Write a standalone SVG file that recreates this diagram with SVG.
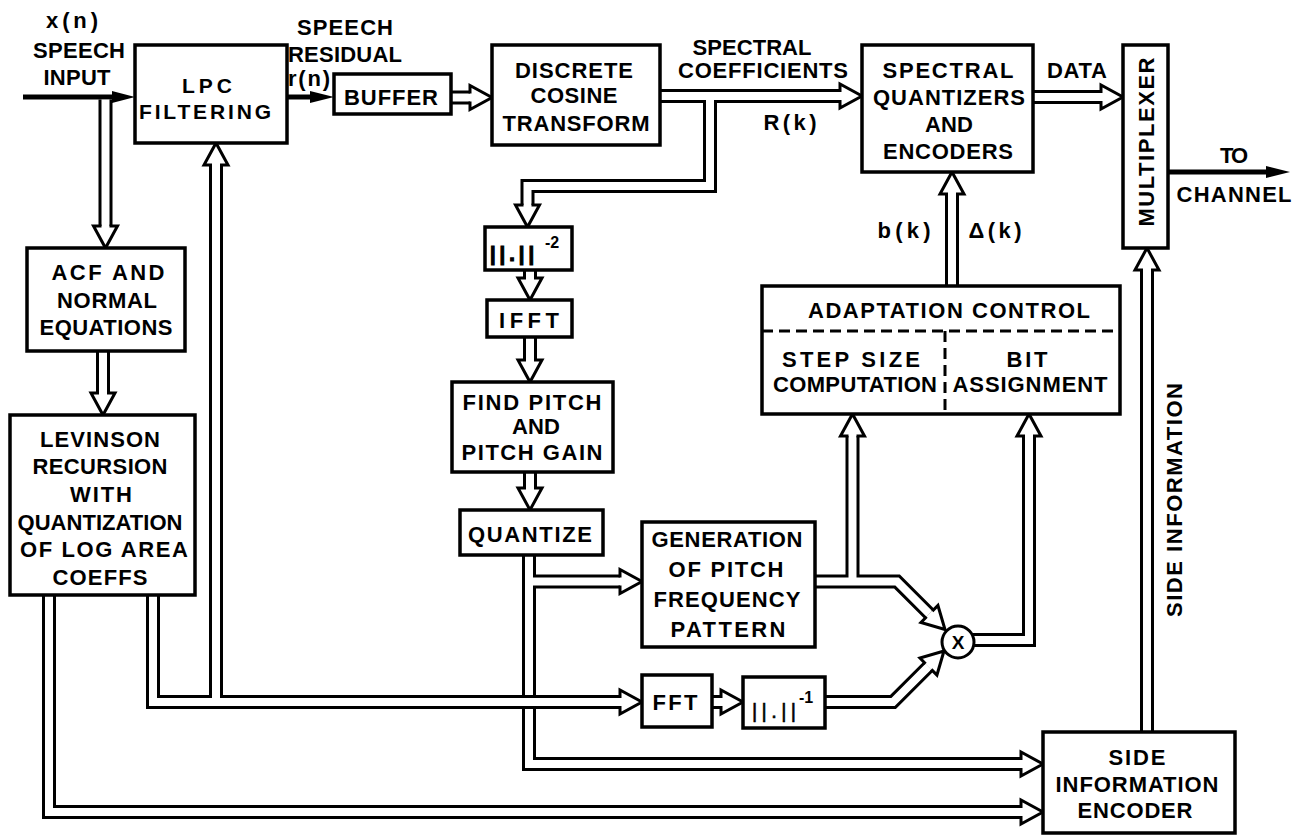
<svg xmlns="http://www.w3.org/2000/svg" xmlns:xlink="http://www.w3.org/1999/xlink" width="1307" height="836" viewBox="0 0 1307 836">
<style>
.box{fill:#fff;stroke:#000;stroke-width:3.5}
.t{font-family:"Liberation Sans",Arial,sans-serif;font-weight:bold;font-size:22px;text-anchor:middle;fill:#000}
.sm{font-size:16px}
.nrm{stroke:#000;stroke-width:1.2}
.chB{fill:none;stroke:#000;stroke-width:14;stroke-linejoin:miter}
.chW{fill:none;stroke:#fff;stroke-width:8;stroke-linejoin:miter}
.ah{fill:#fff;stroke:#000;stroke-width:3;stroke-linecap:square;stroke-linejoin:miter}
.ln{fill:none;stroke:#000;stroke-width:5}
.sa{fill:#000;stroke:none}
.dash{fill:none;stroke:#000;stroke-width:3;stroke-dasharray:11 6}
</style>
<defs>
<polyline id="ah" points="-22,-5.5 -22,-12 0,0 -22,12 -22,5.5"/>
<path id="c_in" d="M105.5,99.5 V226"/>
<path id="c_buf" d="M451,97.5 H470"/>
<path id="c_dct" d="M660,96 H840"/>
<path id="c_dctb" d="M710,96 V186 H527.5 V205"/>
<path id="c_iis" d="M530,270 V278"/>
<path id="c_ifft" d="M530,337 V360"/>
<path id="c_find" d="M530,472 V488"/>
<path id="c_q" d="M529,555 V764 H1021"/>
<path id="c_qg" d="M529,581.5 H620"/>
<path id="c_acf" d="M103,351 V393"/>
<path id="c_lev2" d="M49,595 V812 H1021"/>
<path id="c_gen" d="M815,581.5 H897 L929.4,613.9"/>
<path id="c_genup" d="M852.5,581.5 V436"/>
<path id="c_fft2" d="M712,702 H721"/>
<path id="c_nrm" d="M825,702 H893 L928.4,666.6"/>
<path id="c_x" d="M972,640 H1029 V436"/>
<path id="c_adapt" d="M952,286 V194"/>
<path id="c_side" d="M1147,732 V270"/>
<path id="c_data" d="M1033,97 H1101"/>
<path id="c_lev1" d="M153,595 V702 H620"/>
<path id="c_lpc" d="M216,702 V165"/>
</defs>

<g id="connectors">
  <!-- thin signal lines -->
  <line class="ln" x1="23" y1="97" x2="116" y2="97"/>
  <polygon class="sa" points="135,97 112,91 112,103"/>
  <line class="ln" x1="287" y1="97" x2="314" y2="97"/>
  <polygon class="sa" points="334,97 310,91 310,103"/>
  <line class="ln" x1="1168" y1="172" x2="1270" y2="172"/>
  <polygon class="sa" points="1290,172 1266,166 1266,178"/>

  <!-- double-line channels: main system -->
  <g>
    <use xlink:href="#c_in" class="chB"/>
    <use xlink:href="#c_buf" class="chB"/>
    <use xlink:href="#c_dct" class="chB"/>
    <use xlink:href="#c_dctb" class="chB"/>
    <use xlink:href="#c_iis" class="chB"/>
    <use xlink:href="#c_ifft" class="chB"/>
    <use xlink:href="#c_find" class="chB"/>
    <use xlink:href="#c_q" class="chB"/>
    <use xlink:href="#c_qg" class="chB"/>
    <use xlink:href="#c_acf" class="chB"/>
    <use xlink:href="#c_lev2" class="chB"/>
    <use xlink:href="#c_gen" class="chB"/>
    <use xlink:href="#c_genup" class="chB"/>
    <use xlink:href="#c_fft2" class="chB"/>
    <use xlink:href="#c_nrm" class="chB"/>
    <use xlink:href="#c_x" class="chB"/>
    <use xlink:href="#c_adapt" class="chB"/>
    <use xlink:href="#c_side" class="chB"/>
    <use xlink:href="#c_data" class="chB"/>
  </g>
  <g>
    <use xlink:href="#c_in" class="chW"/>
    <use xlink:href="#c_buf" class="chW"/>
    <use xlink:href="#c_dct" class="chW"/>
    <use xlink:href="#c_dctb" class="chW"/>
    <use xlink:href="#c_iis" class="chW"/>
    <use xlink:href="#c_ifft" class="chW"/>
    <use xlink:href="#c_find" class="chW"/>
    <use xlink:href="#c_q" class="chW"/>
    <use xlink:href="#c_qg" class="chW"/>
    <use xlink:href="#c_acf" class="chW"/>
    <use xlink:href="#c_lev2" class="chW"/>
    <use xlink:href="#c_gen" class="chW"/>
    <use xlink:href="#c_genup" class="chW"/>
    <use xlink:href="#c_fft2" class="chW"/>
    <use xlink:href="#c_nrm" class="chW"/>
    <use xlink:href="#c_x" class="chW"/>
    <use xlink:href="#c_adapt" class="chW"/>
    <use xlink:href="#c_side" class="chW"/>
    <use xlink:href="#c_data" class="chW"/>
  </g>
  <!-- Levinson -> FFT / LPC channel (drawn on top at crossing) -->
  <g>
    <use xlink:href="#c_lev1" class="chB"/>
    <use xlink:href="#c_lpc" class="chB"/>
    <use xlink:href="#c_lev1" class="chW"/>
    <use xlink:href="#c_lpc" class="chW"/>
  </g>

  <!-- hollow arrowheads -->
  <use xlink:href="#ah" class="ah" transform="translate(105.5,248) rotate(90)"/>
  <use xlink:href="#ah" class="ah" transform="translate(492,97.5)"/>
  <use xlink:href="#ah" class="ah" transform="translate(862,96)"/>
  <use xlink:href="#ah" class="ah" transform="translate(527.5,227) rotate(90)"/>
  <use xlink:href="#ah" class="ah" transform="translate(530,300) rotate(90)"/>
  <use xlink:href="#ah" class="ah" transform="translate(530,382) rotate(90)"/>
  <use xlink:href="#ah" class="ah" transform="translate(530,510) rotate(90)"/>
  <use xlink:href="#ah" class="ah" transform="translate(1043,764)"/>
  <use xlink:href="#ah" class="ah" transform="translate(642,581.5)"/>
  <use xlink:href="#ah" class="ah" transform="translate(103,415) rotate(90)"/>
  <use xlink:href="#ah" class="ah" transform="translate(1043,812)"/>
  <use xlink:href="#ah" class="ah" transform="translate(945,629.5) rotate(45)"/>
  <use xlink:href="#ah" class="ah" transform="translate(852.5,414) rotate(-90)"/>
  <use xlink:href="#ah" class="ah" transform="translate(743,702)"/>
  <use xlink:href="#ah" class="ah" transform="translate(944,651) rotate(-45)"/>
  <use xlink:href="#ah" class="ah" transform="translate(1029,414) rotate(-90)"/>
  <use xlink:href="#ah" class="ah" transform="translate(952,172) rotate(-90)"/>
  <use xlink:href="#ah" class="ah" transform="translate(1147,248) rotate(-90)"/>
  <use xlink:href="#ah" class="ah" transform="translate(1123,97)"/>
  <use xlink:href="#ah" class="ah" transform="translate(642,702)"/>
  <use xlink:href="#ah" class="ah" transform="translate(216,143) rotate(-90)"/>

  <!-- signal labels -->
  <text class="t" x="72" y="28" textLength="52">x(n)</text>
  <text class="t" x="79" y="58" textLength="92">SPEECH</text>
  <text class="t" x="77" y="85" textLength="67">INPUT</text>
  <text class="t" x="345" y="35" textLength="96">SPEECH</text>
  <text class="t" x="345" y="62" textLength="114">RESIDUAL</text>
  <text class="t" x="309" y="86" textLength="42">r(n)</text>
  <text class="t" x="752" y="55" textLength="119">SPECTRAL</text>
  <text class="t" x="763" y="78" textLength="170">COEFFICIENTS</text>
  <text class="t" x="790" y="130" textLength="53">R(k)</text>
  <text class="t" x="1077" y="78" textLength="60">DATA</text>
  <text class="t" x="1234" y="163" textLength="28">TO</text>
  <text class="t" x="1234" y="202" textLength="115">CHANNEL</text>
  <text class="t" x="904" y="238" textLength="53">b(k)</text>
  <text class="t" x="995" y="238" textLength="53">Δ(k)</text>
  <text class="t" transform="translate(1182,500) rotate(-90)" x="0" y="0" textLength="234">SIDE INFORMATION</text>
</g>

<g id="lpc">
  <rect class="box" x="135" y="45" width="152" height="98"/>
  <text class="t" x="207" y="93" textLength="50" style="font-size:21px">LPC</text>
  <text class="t" x="205" y="119" textLength="132" style="font-size:21px">FILTERING</text>
</g>
<g id="buffer">
  <rect class="box" x="334" y="74" width="117" height="40"/>
  <text class="t" x="391" y="105" textLength="94">BUFFER</text>
</g>
<g id="dct">
  <rect class="box" x="492" y="45" width="168" height="100"/>
  <text class="t" x="574" y="78" textLength="118">DISCRETE</text>
  <text class="t" x="574" y="103" textLength="87">COSINE</text>
  <text class="t" x="576" y="131" textLength="147">TRANSFORM</text>
</g>
<g id="sqe">
  <rect class="box" x="862" y="45" width="171" height="127"/>
  <text class="t" x="948" y="78" textLength="131">SPECTRAL</text>
  <text class="t" x="949" y="105" textLength="152">QUANTIZERS</text>
  <text class="t" x="949" y="132" textLength="48">AND</text>
  <text class="t" x="948" y="159" textLength="130">ENCODERS</text>
</g>
<g id="mux">
  <rect class="box" x="1123" y="45" width="45" height="203"/>
  <text class="t" transform="translate(1154,142) rotate(-90)" x="0" y="0" textLength="169">MULTIPLEXER</text>
</g>
<g id="acf">
  <rect class="box" x="27" y="248" width="158" height="103"/>
  <text class="t" x="108" y="280" textLength="113">ACF AND</text>
  <text class="t" x="107" y="308" textLength="100">NORMAL</text>
  <text class="t" x="106" y="335" textLength="133">EQUATIONS</text>
</g>
<g id="levinson">
  <rect class="box" x="10" y="415" width="185" height="180"/>
  <text class="t" x="100" y="447" textLength="120">LEVINSON</text>
  <text class="t" x="100" y="474" textLength="135">RECURSION</text>
  <text class="t" x="101" y="502" textLength="62">WITH</text>
  <text class="t" x="100" y="530" textLength="165">QUANTIZATION</text>
  <text class="t" x="104" y="557" textLength="168">OF LOG AREA</text>
  <text class="t" x="100" y="585" textLength="95">COEFFS</text>
</g>
<g id="norm2">
  <rect class="box" x="485" y="227" width="87" height="43"/>
  <text class="t nrm" x="512" y="261" textLength="44" style="font-size:20px">||.||</text>
  <text class="t sm" x="552" y="248">-2</text>
</g>
<g id="ifft">
  <rect class="box" x="487" y="300" width="85" height="37"/>
  <text class="t" x="529" y="328" textLength="60">IFFT</text>
</g>
<g id="findpitch">
  <rect class="box" x="452" y="382" width="161" height="90"/>
  <text class="t" x="532" y="410" textLength="139">FIND PITCH</text>
  <text class="t" x="536" y="434" textLength="48">AND</text>
  <text class="t" x="532" y="460" textLength="141">PITCH GAIN</text>
</g>
<g id="quantize">
  <rect class="box" x="460" y="510" width="143" height="45"/>
  <text class="t" x="530" y="542" textLength="124">QUANTIZE</text>
</g>
<g id="generation">
  <rect class="box" x="642" y="522" width="173" height="125"/>
  <text class="t" x="727" y="547" textLength="151">GENERATION</text>
  <text class="t" x="726" y="577" textLength="115">OF PITCH</text>
  <text class="t" x="727" y="607" textLength="147">FREQUENCY</text>
  <text class="t" x="728" y="637" textLength="115">PATTERN</text>
</g>
<g id="fft">
  <rect class="box" x="642" y="675" width="70" height="52"/>
  <text class="t" x="675" y="710" textLength="45">FFT</text>
</g>
<g id="norm1">
  <rect class="box" x="743" y="677" width="82" height="51"/>
  <text class="t" x="774" y="718" textLength="44" style="font-size:20px;font-weight:normal;stroke:#000;stroke-width:0.6">||.||</text>
  <text class="t sm" x="806" y="703">-1</text>
</g>
<g id="adaptation">
  <rect class="box" x="762" y="286" width="358" height="128"/>
  <line class="dash" x1="762" y1="331" x2="1120" y2="331"/>
  <line class="dash" x1="945" y1="331" x2="945" y2="414"/>
  <text class="t" x="949" y="318" textLength="282">ADAPTATION CONTROL</text>
  <text class="t" x="851" y="367" textLength="138">STEP SIZE</text>
  <text class="t" x="855" y="392" textLength="164">COMPUTATION</text>
  <text class="t" x="1027" y="367" textLength="41">BIT</text>
  <text class="t" x="1030" y="392" textLength="155">ASSIGNMENT</text>
</g>
<g id="multiplier">
  <circle cx="958" cy="642" r="16" fill="#fff" stroke="#000" stroke-width="3"/>
  <text class="t" x="958" y="649" style="font-size:19px">X</text>
</g>
<g id="sideencoder">
  <rect class="box" x="1043" y="732" width="192" height="101"/>
  <text class="t" x="1137" y="765" textLength="57">SIDE</text>
  <text class="t" x="1137" y="792" textLength="163">INFORMATION</text>
  <text class="t" x="1135" y="818" textLength="115">ENCODER</text>
</g>
</svg>
